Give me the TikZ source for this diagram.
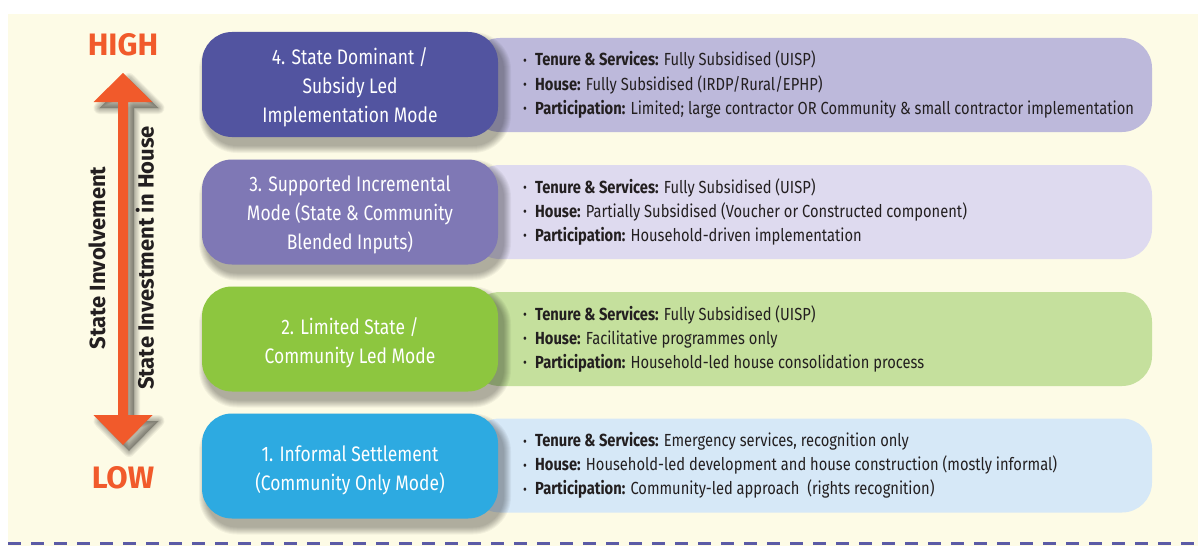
\documentclass[tikz,border=0pt]{standalone}
\usepackage{fontspec}
\setmainfont{Fira Sans}
\newfontfamily\condf{Fira Sans}[FakeStretch=0.84]
\newfontfamily\modef{Fira Sans}[FakeStretch=0.83]
\newfontfamily\axisf{Fira Sans}
\definecolor{cream}{HTML}{FDFBE6}
\definecolor{modeA}{HTML}{2DAAE1}
\definecolor{modeB}{HTML}{8DC63F}
\definecolor{modeC}{HTML}{7F78B5}
\definecolor{modeD}{HTML}{5254A0}
\definecolor{detA}{HTML}{D6E8F7}
\definecolor{detB}{HTML}{C5E09D}
\definecolor{detC}{HTML}{DEDAEF}
\definecolor{detD}{HTML}{BDB9DB}
\definecolor{orng}{HTML}{F15A2B}
\definecolor{dashc}{HTML}{5B5BA6}
\definecolor{txt}{HTML}{231F20}
\newcommand{\bul}{\makebox[12pt][l]{\raisebox{0.5pt}{\scalebox{0.8}{\textbullet}}}}
% soft shadow for a rounded box given by its centre (#1,#2)
\newcommand{\modeshadow}[2]{%
  \foreach \k in {0,...,7}{%
    \pgfmathsetmacro\ee{8-\k}%
    \pgfmathsetmacro\rr{30+\ee}%
    \fill[black, fill opacity=0.045, rounded corners=\rr pt]
      (#1-148+5-\ee, #2-52.5+8-\ee) rectangle (#1+148+5+\ee, #2+52.5+8+\ee);
  }}
\begin{document}
\begin{tikzpicture}[x=1pt,y=-1pt,
  modebox/.style={draw=none, rounded corners=30pt, minimum width=296pt, minimum height=105pt, inner sep=0pt},
  modetext/.style={text=white, align=center, inner sep=0pt, font=\modef\fontsize{21}{29}\selectfont},
  detbox/.style={draw=none, rounded corners=30pt, minimum width=682pt, minimum height=94pt, inner sep=0pt},
  detline/.style={anchor=base west, inner sep=0pt, text=txt, font=\condf\fontsize{17.5}{24}\selectfont},
  axislabel/.style={rotate=90, inner sep=0pt, text=txt, font=\axisf\bfseries\fontsize{22}{24}\selectfont},
  levellabel/.style={inner sep=0pt, text=orng, font=\bfseries\fontsize{31}{34}\selectfont}]
\useasboundingbox (0,0) rectangle (1198,551);
\fill[white] (0,0) rectangle (1198,551);
\fill[cream] (8,14) rectangle (1198,546);
\draw[dashc, line width=3pt, dash pattern=on 13pt off 10pt] (8,543) -- (1198,543);

% arrow shadow
\foreach \k in {0,...,5}{%
  \pgfmathsetmacro\ee{6-\k}%
  \fill[black, fill opacity=0.05, draw opacity=0.05, draw=black, line width=2*\ee pt, line join=round]
   (129,79) -- (158.5,108) -- (134,108) -- (134,421) -- (158.5,421) -- (129,451) -- (99.5,421) -- (124,421) -- (124,108) -- (99.5,108) -- cycle;
}
% double arrow
\fill[orng] (123,73) -- (152.5,102) -- (128,102) -- (128,415) -- (152.5,415) -- (123,445) -- (93.5,415) -- (118,415) -- (118,102) -- (93.5,102) -- cycle;
\node[levellabel] (high) at (123,45) {HIGH};
\node[levellabel] (low) at (123,478) {LOW};
\node[axislabel] (invol) at (97,258) {State Involvement};
\node[axislabel] (invest) at (145,258) {State Investment in House};

% detail boxes
\node[detbox, fill=detD] (d4) at (811,85) {};
\node[detbox, fill=detC] (d3) at (811,212) {};
\node[detbox, fill=detB] (d2) at (811,339) {};
\node[detbox, fill=detA] (d1) at (811,465.5) {};

% shadows of mode boxes
\modeshadow{350}{84.5}
\modeshadow{350}{212}
\modeshadow{350}{339}
\modeshadow{350}{466}

% mode boxes
\node[modebox, fill=modeD] (m4) at (350,84.5) {};
\node[modebox, fill=modeC] (m3) at (350,212) {};
\node[modebox, fill=modeB] (m2) at (350,339) {};
\node[modebox, fill=modeA] (m1) at (350,466) {};
\node[modetext] (m4t) at ([yshift=-3pt]m4.center) {4. State Dominant /\\Subsidy Led\\Implementation Mode};
\node[modetext] (m3t) at ([yshift=-3pt]m3.center) {3. Supported Incremental\\Mode (State \& Community\\Blended Inputs)};
\node[modetext] (m2t) at ([yshift=-4pt]m2.center) {2. Limited State /\\Community Led Mode};
\node[modetext] (m1t) at ([yshift=-4pt]m1.center) {1. Informal Settlement\\(Community Only Mode)};

% detail texts
\node[detline] (d4a) at (523,66) {\bul\textbf{Tenure \& Services:} Fully Subsidised (UISP)};
\node[detline] (d4b) at (523,90) {\bul\textbf{House:} Fully Subsidised (IRDP/Rural/EPHP)};
\node[detline] (d4c) at (523,114) {\bul\textbf{Participation:} Limited; large contractor OR Community \& small contractor implementation};

\node[detline] (d3a) at (523,193) {\bul\textbf{Tenure \& Services:} Fully Subsidised (UISP)};
\node[detline] (d3b) at (523,217) {\bul\textbf{House:} Partially Subsidised (Voucher or Constructed component)};
\node[detline] (d3c) at (523,241) {\bul\textbf{Participation:} Household-driven implementation};

\node[detline] (d2a) at (523,320) {\bul\textbf{Tenure \& Services:} Fully Subsidised (UISP)};
\node[detline] (d2b) at (523,344) {\bul\textbf{House:} Facilitative programmes only};
\node[detline] (d2c) at (523,368) {\bul\textbf{Participation:} Household-led house consolidation process};

\node[detline] (d1a) at (523,446.5) {\bul\textbf{Tenure \& Services:} Emergency services, recognition only};
\node[detline] (d1b) at (523,470.5) {\bul\textbf{House:} Household-led development and house construction (mostly informal)};
\node[detline] (d1c) at (523,494.5) {\bul\textbf{Participation:} Community-led approach\ \ (rights recognition)};
\end{tikzpicture}
\end{document}
